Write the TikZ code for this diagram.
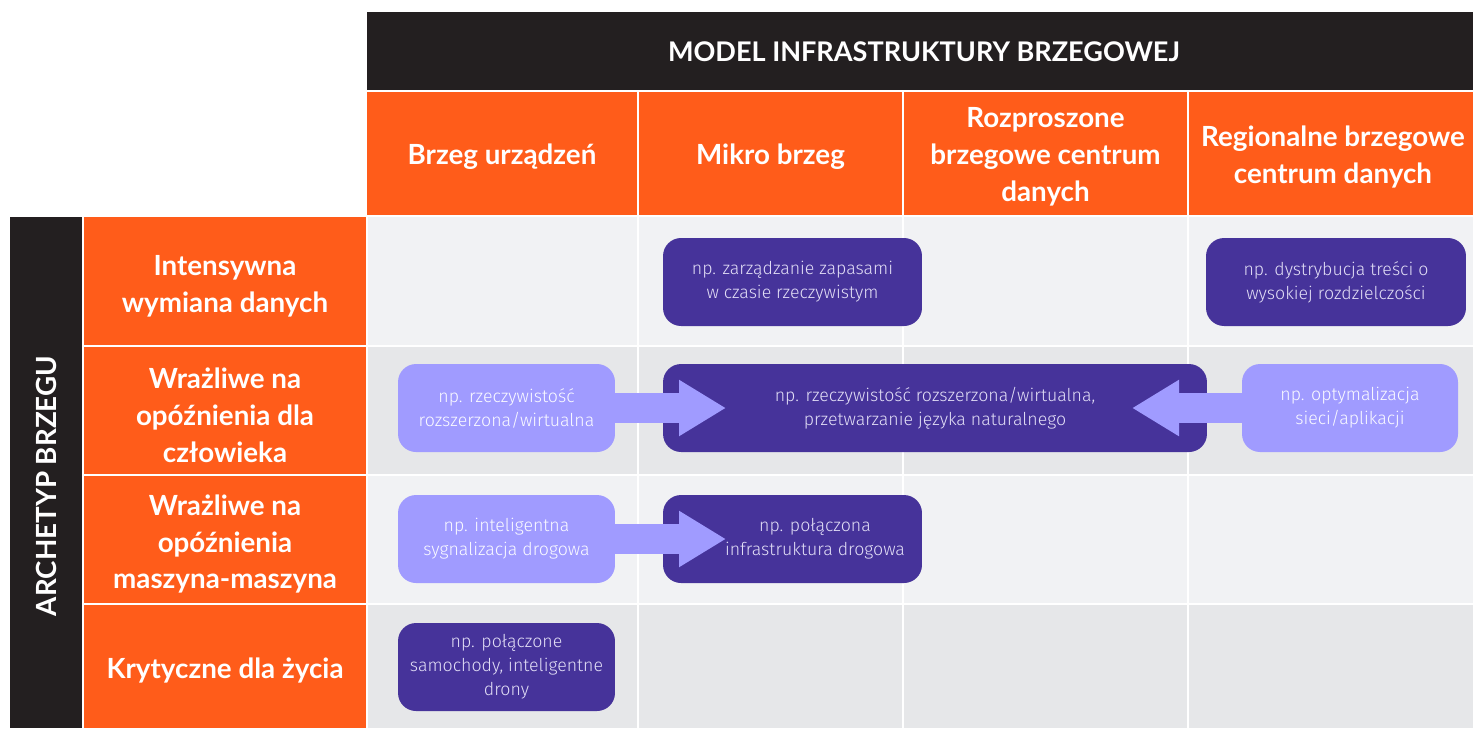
\documentclass[tikz,border=0pt]{standalone}
\usepackage{fontspec}
\setmainfont{Lato}
\newfontfamily\boxfont{Fira Sans Light}
\usetikzlibrary{arrows.meta,positioning}

\definecolor{edgeorange}{HTML}{FF5C1A}
\definecolor{edgeblack}{HTML}{231F20}
\definecolor{cellpale}{HTML}{F1F2F4}
\definecolor{cellgrey}{HTML}{E6E7E9}
\definecolor{darkviolet}{HTML}{46339A}
\definecolor{paleviolet}{HTML}{A09BFF}
\definecolor{boxtext}{HTML}{E2DEF6}

\tikzset{
  hdrtext/.style={text=white, align=center, inner sep=0pt,
    font=\fontsize{15.8}{21}\selectfont\bfseries},
  dkbox/.style={fill=darkviolet, rounded corners=0.36cm, text=boxtext,
    align=center, inner sep=0pt, font=\boxfont\fontsize{10.1}{13.7}\selectfont},
  ltbox/.style={dkbox, fill=paleviolet, text=white!95!paleviolet},
  bigarrow/.style={paleviolet, line width=0.59cm,
    -{Triangle[length=0.94cm,width=1.06cm]}},
}

\begin{document}
\begin{tikzpicture}[x=0.02cm, y=-0.02cm]
\useasboundingbox (0,0) rectangle (1473,728);
% banner and column headers
\fill[edgeblack] (367,12) rectangle (1473,90);
\node[hdrtext, font=\fontsize{15.4}{20}\selectfont\bfseries] (model) at (924,52) {MODEL INFRASTRUKTURY BRZEGOWEJ};
\fill[edgeorange] (367,92) rectangle (637,215);
\fill[edgeorange] (639,92) rectangle (902,215);
\fill[edgeorange] (904,92) rectangle (1187,215);
\fill[edgeorange] (1189,92) rectangle (1473,215);
\node[hdrtext] (col1) at (502,157) {Brzeg urządzeń};
\node[hdrtext] (col2) at (770.5,157) {Mikro brzeg};
\node[hdrtext] (col3) at (1045.5,157) {Rozproszone\\brzegowe centrum\\danych};
\node[hdrtext] (col4) at (1333,157) {Regionalne brzegowe\\centrum danych};
% row headers
\fill[edgeblack] (10,217) rectangle (82,728);
\node[hdrtext, rotate=90] (arch) at (46,486) {ARCHETYP BRZEGU};
\fill[edgeorange] (84,217) rectangle (366,345);
\fill[edgeorange] (84,347) rectangle (366,474);
\fill[edgeorange] (84,476) rectangle (366,603);
\fill[edgeorange] (84,605) rectangle (366,728);
\node[hdrtext] (row1) at (225,286) {Intensywna\\wymiana danych};
\node[hdrtext] (row2) at (225,415) {Wrażliwe na\\opóźnienia dla\\człowieka};
\node[hdrtext] (row3) at (225,544) {Wrażliwe na\\opóźnienia\\maszyna-maszyna};
\node[hdrtext] (row4) at (225,670) {Krytyczne dla życia};
% cells
\foreach \y/\h/\c in {217/345/cellpale, 347/474/cellgrey, 476/603/cellpale, 605/728/cellgrey}{
  \fill[\c] (368,\y) rectangle (637,\h);
  \fill[\c] (639,\y) rectangle (902,\h);
  \fill[\c] (904,\y) rectangle (1187,\h);
  \fill[\c] (1189,\y) rectangle (1473,\h);
}
% examples
\node[dkbox, minimum width=5.18cm, minimum height=1.76cm] (stock) at (792.5,282) {np. zarządzanie zapasami\\w czasie rzeczywistym};
\node[dkbox, minimum width=5.2cm, minimum height=1.76cm] (content) at (1336,282) {np. dystrybucja treści o\\wysokiej rozdzielczości};
\node[ltbox, minimum width=4.34cm, minimum height=1.76cm] (arvr) at (506.5,408) {np. rzeczywistość\\rozszerzona/wirtualna};
\node[dkbox, minimum width=10.88cm, minimum height=1.76cm] (nlp) at (935,408) {np. rzeczywistość rozszerzona/wirtualna,\\przetwarzanie języka naturalnego};
\node[ltbox, minimum width=4.32cm, minimum height=1.76cm] (netopt) at (1350,408) {np. optymalizacja\\sieci/aplikacji};
\node[ltbox, minimum width=4.34cm, minimum height=1.76cm] (signal) at (506.5,539) {np. inteligentna\\sygnalizacja drogowa};
\node[dkbox, minimum width=5.18cm, minimum height=1.76cm,
  label={[dkbox, fill=none, xshift=0.45cm]center:np. połączona\\infrastruktura drogowa}] (road) at (792.5,539) {};
\node[dkbox, minimum width=4.34cm, minimum height=1.76cm] (cars) at (506.5,667) {np. połączone\\samochody, inteligentne\\drony};
% arrows
\coordinate (tipa) at (726,408);
\coordinate (tipb) at (1132,408);
\coordinate (tipc) at (726,539);
\draw[bigarrow] (arvr.east) -- (tipa);
\draw[bigarrow] (netopt.west) -- (tipb);
\draw[bigarrow] (signal.east) -- (tipc);
\end{tikzpicture}
\end{document}
